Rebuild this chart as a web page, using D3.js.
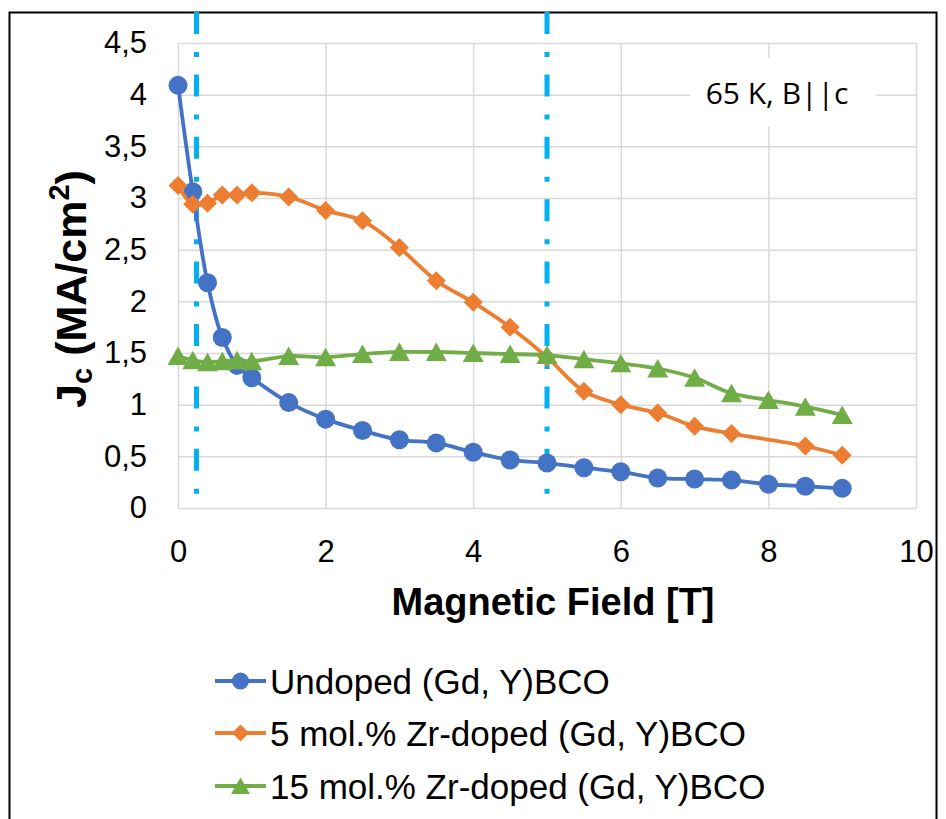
<!DOCTYPE html>
<html>
<head>
<meta charset="utf-8">
<script src="https://cdn.jsdelivr.net/npm/d3@7"></script>
<style>
  body { margin: 0; background: #fff; }
  svg { display: block; font-family: "Liberation Sans", Arial, sans-serif; }
</style>
</head>
<body>
<svg id="chart"></svg>
<script>
// Data
const undopedField = [0, 0.2, 0.4, 0.6, 0.8, 1, 1.5, 2, 2.5, 3, 3.5, 4, 4.5, 5, 5.5, 6, 6.5, 7, 7.5, 8, 8.5, 9];
const undopedJc = [4.09, 3.06, 2.18, 1.65, 1.38, 1.26, 1.02, 0.86, 0.75, 0.66, 0.63, 0.54, 0.465, 0.435, 0.39, 0.35, 0.29, 0.28, 0.27, 0.23, 0.21, 0.19];

const zr5Field = [0, 0.2, 0.4, 0.6, 0.8, 1, 1.5, 2, 2.5, 3, 3.5, 4, 4.5, 5, 5.5, 6, 6.5, 7, 7.5, 8.5, 9];
const zr5Jc = [3.12, 2.94, 2.95, 3.03, 3.03, 3.05, 3.01, 2.88, 2.78, 2.52, 2.20, 1.99, 1.75, 1.46, 1.13, 1.0, 0.92, 0.79, 0.72, 0.60, 0.51];

const zr15Field = [0, 0.2, 0.4, 0.6, 0.8, 1, 1.5, 2, 2.5, 3, 3.5, 4, 4.5, 5, 5.5, 6, 6.5, 7, 7.5, 8, 8.5, 9];
const zr15Jc = [1.47, 1.43, 1.41, 1.42, 1.43, 1.42, 1.47, 1.46, 1.49, 1.51, 1.51, 1.50, 1.49, 1.48, 1.44, 1.40, 1.35, 1.26, 1.11, 1.045, 0.98, 0.90];

const seriesNames = ["Undoped (Gd, Y)BCO", "5 mol.% Zr-doped (Gd, Y)BCO", "15 mol.% Zr-doped (Gd, Y)BCO"];
const xTicks = [0, 2, 4, 6, 8, 10];
const yTicks = [0, 0.5, 1, 1.5, 2, 2.5, 3, 3.5, 4, 4.5];

// dash-dot guide lines (field values) and their vertical extent
const guideField = [0.25, 5];
const guideJc = [4.8, 0.13];

const annotation = "65 K, B||c";

// layout
const width = 946, height = 819;
const plot = { left: 178, right: 916, top: 43, bottom: 508 };

const svg = d3.select("#chart").attr("width", width).attr("height", height);

// outer chart frame (bottom edge runs off the picture)
svg.append("rect")
    .attr("x", 9.5).attr("y", 12.5)
    .attr("width", 927).attr("height", 830)
    .attr("fill", "#fff")
    .attr("stroke", "#000")
    .attr("stroke-width", 2);

const x = d3.scaleLinear().domain([0, 10]).range([plot.left, plot.right]);
const y = d3.scaleLinear().domain([0, 4.5]).range([plot.bottom, plot.top]);

// gridlines + tick labels
const yAxis = svg.append("g")
    .attr("transform", `translate(${plot.left},0)`)
    .call(d3.axisLeft(y).tickValues(yTicks)
        .tickSize(-(plot.right - plot.left))
        .tickPadding(31)
        .tickFormat(d => String(d).replace(".", ",")));

const xAxis = svg.append("g")
    .attr("transform", `translate(0,${plot.bottom})`)
    .call(d3.axisBottom(x).tickValues(xTicks)
        .tickSize(-(plot.bottom - plot.top))
        .tickPadding(32));

[xAxis, yAxis].forEach(g => {
    g.select(".domain").remove();
    g.selectAll(".tick line").attr("stroke", "#D9D9D9").attr("stroke-width", 1.5);
    g.selectAll(".tick text")
        .attr("fill", "#000")
        .style("font-size", "31px")
        .style("font-family", "'Liberation Sans', Arial, sans-serif");
});

// annotation box
svg.append("rect")
    .attr("x", 690).attr("y", 58)
    .attr("width", 186).attr("height", 69)
    .attr("fill", "#fff");

svg.append("text")
    .attr("x", 777).attr("y", 104)
    .attr("text-anchor", "middle")
    .style("font-family", "'Open Sans', 'Noto Sans', sans-serif")
    .style("font-size", "30px")
    .attr("fill", "#000")
    .text(annotation);

// dash-dot guide lines
svg.selectAll(".guide")
    .data(guideField)
    .enter()
    .append("line")
    .attr("class", "guide")
    .attr("x1", d => x(d)).attr("x2", d => x(d))
    .attr("y1", y(guideJc[0])).attr("y2", y(guideJc[1]))
    .attr("stroke", "#00B0F0")
    .attr("stroke-width", 5)
    .attr("stroke-dasharray", "22,18,5,17.4");

// series
const colors = ["#4472C4", "#ED7D31", "#70AD47"];
const series = [
    { field: undopedField, jc: undopedJc, shape: "circle" },
    { field: zr5Field, jc: zr5Jc, shape: "diamond" },
    { field: zr15Field, jc: zr15Jc, shape: "triangle" }
];

const line = d3.line()
    .x(d => x(d[0]))
    .y(d => y(d[1]))
    .curve(d3.curveCatmullRom.alpha(0.5));

function markerPath(shape, k) {
    if (shape === "circle") return d3.symbol(d3.symbolCircle, Math.PI * (9.5 * k) ** 2)();
    if (shape === "diamond") return `M0,${-9.5 * k}L${9.5 * k},0L0,${9.5 * k}L${-9.5 * k},0Z`;
    return `M0,${-9.5 * k}L${10.5 * k},${9 * k}L${-10.5 * k},${9 * k}Z`;
}

series.forEach((s, i) => {
    const pts = s.field.map((f, j) => [f, s.jc[j]]);
    svg.append("path")
        .datum(pts)
        .attr("d", line)
        .attr("fill", "none")
        .attr("stroke", colors[i])
        .attr("stroke-width", 3.8)
        .attr("stroke-linejoin", "round");
    svg.selectAll(".m" + i)
        .data(pts)
        .enter()
        .append("path")
        .attr("class", "m" + i)
        .attr("transform", d => `translate(${x(d[0])},${y(d[1])})`)
        .attr("d", markerPath(s.shape, 1))
        .attr("fill", colors[i]);
});

// axis titles
svg.append("text")
    .attr("x", 553).attr("y", 615)
    .attr("text-anchor", "middle")
    .style("font-size", "38px")
    .style("font-weight", "bold")
    .text("Magnetic Field [T]");

const yTitle = svg.append("text")
    .attr("transform", "translate(86,289) rotate(-90)")
    .attr("text-anchor", "middle")
    .style("font-size", "43px")
    .style("font-weight", "bold");
yTitle.append("tspan").text("J");
yTitle.append("tspan").attr("dy", 6).style("font-size", "29px").text("c");
yTitle.append("tspan").attr("dy", -6).text(" (MA/cm");
yTitle.append("tspan").attr("dy", -17).style("font-size", "29px").text("2");
yTitle.append("tspan").attr("dy", 17).text(")");

// legend
const legend = svg.append("g");
const legendY = [681, 733, 786];
seriesNames.forEach((name, i) => {
    const g = legend.append("g").attr("transform", `translate(0,${legendY[i]})`);
    g.append("line")
        .attr("x1", 215).attr("x2", 266)
        .attr("stroke", colors[i]).attr("stroke-width", 3.8);
    g.append("path")
        .attr("transform", "translate(240.5,0)")
        .attr("d", markerPath(series[i].shape, 0.9))
        .attr("fill", colors[i]);
    g.append("text")
        .attr("x", 270).attr("y", 12.5)
        .style("font-size", "35px")
        .text(name);
});
</script>
</body>
</html>
